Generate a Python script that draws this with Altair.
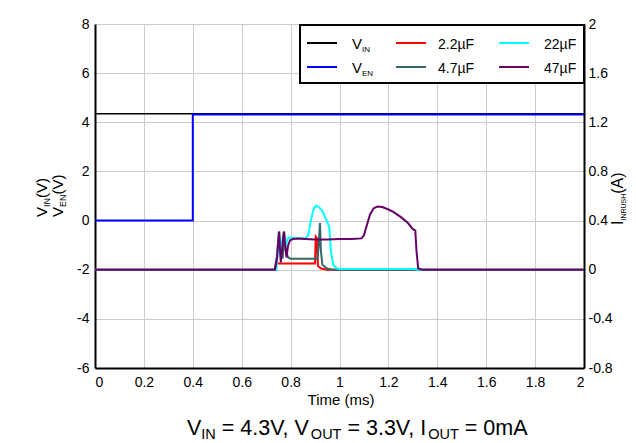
import altair as alt
import pandas as pd

# ---------------- data ----------------
x_ticks = [0, 0.2, 0.4, 0.6, 0.8, 1, 1.2, 1.4, 1.6, 1.8, 2]
v_ticks = [-6, -4, -2, 0, 2, 4, 6, 8]
a_ticks = [-0.8, -0.4, 0, 0.4, 0.8, 1.2, 1.6, 2]

# input / enable voltages (V)
t_vin = [0.0, 0.5, 1.0, 1.5, 2.0]
v_vin = [4.35, 4.35, 4.35, 4.35, 4.35]
t_ven = [0.0, 0.4, 0.4, 2.0]
v_ven = [0.0, 0.0, 4.32, 4.32]

# inrush currents (A)
t_c22 = [0.0, 0.735, 0.740, 0.750, 0.900, 0.903, 0.907, 0.912, 0.925, 0.950, 2.0]
a_c22 = [0.0, 0.0, 0.06, 0.05, 0.05, 0.27, 0.26, 0.03, 0.01, 0.0, 0.0]

t_c47 = [0.0, 0.738, 0.748, 0.754, 0.760, 0.768, 0.774, 0.780, 0.790, 0.800, 0.910,
         0.915, 0.920, 0.924, 0.930, 0.950, 0.970, 2.0]
a_c47 = [0.0, 0.0, 0.20, 0.31, 0.10, 0.10, 0.31, 0.15, 0.10, 0.09, 0.09,
         0.20, 0.38, 0.15, 0.04, 0.01, 0.0, 0.0]

t_c220 = [0.0, 0.742, 0.752, 0.758, 0.770, 0.780, 0.790, 0.800, 0.860, 0.872, 0.885,
          0.895, 0.905, 0.915, 0.930, 0.945, 0.958, 0.965, 0.974, 0.990, 1.000,
          1.300, 1.320, 2.0]
a_c220 = [0.0, 0.0, 0.28, 0.12, 0.29, 0.20, 0.26, 0.26, 0.255, 0.28, 0.42,
          0.50, 0.52, 0.51, 0.48, 0.41, 0.35, 0.15, 0.04, 0.01, 0.005,
          0.005, 0.0, 0.0]

t_c470 = [0.0, 0.736, 0.745, 0.752, 0.760, 0.772, 0.783, 0.790, 0.798, 0.810, 0.830,
          0.860, 0.900, 0.950, 1.000, 1.050, 1.090, 1.100, 1.110, 1.125, 1.140,
          1.155, 1.175, 1.200, 1.220, 1.250, 1.280, 1.300, 1.310, 1.315, 1.322,
          1.340, 2.0]
a_c470 = [0.0, 0.0, 0.10, 0.31, 0.06, 0.31, 0.10, 0.20, 0.24, 0.25, 0.255,
          0.25, 0.245, 0.245, 0.25, 0.25, 0.255, 0.28, 0.35, 0.45, 0.50,
          0.515, 0.51, 0.49, 0.47, 0.43, 0.38, 0.33, 0.32, 0.15, 0.01,
          0.0, 0.0]

FONT = "Liberation Sans"
C_VIN, C_VEN = "#000000", "#0000FF"
C_22, C_47, C_220, C_470 = "#FF0000", "#336666", "#00FFFF", "#660066"

W = {' ': 278, '=': 584, '.': 278, ',': 278, 'V': 667, 'I': 278,
     'N': 722, 'O': 778, 'U': 722, 'T': 611, 'E': 667, 'm': 833, 'A': 667,
     'R': 722, 'S': 667, 'H': 722, '(': 333, ')': 333, '\u00b5': 576, 'F': 611}


def tw(s, size):
    return sum(W.get(c, 556) for c in s) / 1000.0 * size


one = pd.DataFrame({"a": [0]})


def txt(s, x, y, size, angle=0, align="left", baseline="alphabetic"):
    return alt.Chart(one).mark_text(
        text=s, font=FONT, fontSize=size, angle=angle, align=align,
        baseline=baseline, color="black"
    ).encode(x=alt.value(x), y=alt.value(y))


def hseq(pieces, x0, y0):
    out, x = [], x0
    for s, size, dy in pieces:
        lead = len(s) - len(s.lstrip(" "))
        x += tw(" " * lead, size)
        s = s.lstrip(" ")
        out.append(txt(s, x, y0 + dy, size))
        x += tw(s, size)
    return out


def vseq(pieces, x0, y0):
    out, y = [], y0
    for s, size, dx in pieces:
        out.append(txt(s, x0 + dx, y, size, angle=270))
        y -= tw(s, size)
    return out


x_scale = alt.Scale(domain=[0, 2], nice=False, zero=False)
x_axis = alt.Axis(values=x_ticks, labelExpr="datum.value + ''", title=None,
                  grid=True, gridColor="#CCCCCC", gridWidth=1, ticks=False,
                  domainColor="black", domainWidth=2, labelPadding=7,
                  labelFont=FONT, labelFontSize=14, labelColor="black")
vl_axis = alt.Axis(values=v_ticks, labelExpr="datum.value + ''", title=None,
                   orient="left", grid=True, gridColor="#CCCCCC", gridWidth=1,
                   ticks=False, domainColor="black", domainWidth=2, labelPadding=6,
                   labelFont=FONT, labelFontSize=14, labelColor="black")
ar_axis = alt.Axis(values=a_ticks, labelExpr="datum.value + ''", title=None,
                   orient="right", grid=False, ticks=False, domainColor="black",
                   domainWidth=2, labelPadding=4, labelFont=FONT,
                   labelFontSize=14, labelColor="black")
v_scale = alt.Scale(domain=[-6, 8], nice=False, zero=False)
a_scale = alt.Scale(domain=[-0.8, 2], nice=False, zero=False)


def vline(t, v, color, w):
    df = pd.DataFrame({"t": t, "v": v, "i": list(range(len(t)))})
    return alt.Chart(df).mark_line(color=color, strokeWidth=w).encode(
        x=alt.X("t:Q", scale=x_scale, axis=x_axis),
        y=alt.Y("v:Q", scale=v_scale, axis=vl_axis),
        order="i:Q")


def aline(t, a, color, w):
    df = pd.DataFrame({"t": t, "a": a, "i": list(range(len(t)))})
    return alt.Chart(df).mark_line(color=color, strokeWidth=w).encode(
        x=alt.X("t:Q", scale=x_scale, axis=x_axis),
        y=alt.Y("a:Q", scale=a_scale, axis=ar_axis),
        order="i:Q")


left = alt.layer(vline(t_vin, v_vin, C_VIN, 1.6), vline(t_ven, v_ven, C_VEN, 2))
right = alt.layer(aline(t_c22, a_c22, C_22, 2), aline(t_c47, a_c47, C_47, 2),
                  aline(t_c220, a_c220, C_220, 2), aline(t_c470, a_c470, C_470, 2))

# legend (drawn by hand to keep subscripts)
box = alt.Chart(one).mark_rect(fill="white", stroke="black", strokeWidth=2).encode(
    x=alt.value(205), x2=alt.value(489), y=alt.value(1), y2=alt.value(59))
leg = [box]
rows = [19, 43]
cols = [(212, 242, 257), (301, 331, 343), (404, 434, 449)]
for (x1, x2, _), ry, c in [(cols[0], rows[0], C_VIN), (cols[0], rows[1], C_VEN),
                           (cols[1], rows[0], C_22), (cols[1], rows[1], C_47),
                           (cols[2], rows[0], C_220), (cols[2], rows[1], C_470)]:
    leg.append(alt.Chart(one).mark_rule(color=c, strokeWidth=2).encode(
        x=alt.value(x1), x2=alt.value(x2), y=alt.value(ry)))
leg += hseq([("V", 15, 0), ("IN", 8, 3)], cols[0][2], rows[0] + 5.5)
leg += hseq([("V", 15, 0), ("EN", 8, 3)], cols[0][2], rows[1] + 5.5)
leg.append(txt("2.2\u00b5F", cols[1][2], rows[0] + 5.5, 14))
leg.append(txt("4.7\u00b5F", cols[1][2], rows[1] + 5.5, 14))
leg.append(txt("22\u00b5F", cols[2][2], rows[0] + 5.5, 14))
leg.append(txt("47\u00b5F", cols[2][2], rows[1] + 5.5, 14))

# titles
titles = []
titles += vseq([("V", 15, 0), ("IN", 9, 3), ("(V)", 15, 0)], -48, 193)
titles += vseq([("V", 15, 0), ("EN", 9, 3), ("(V)", 15, 0)], -32, 193)
titles += vseq([("I", 16, 0), ("INRUSH", 7, 3), ("(A)", 16, 0)], 528, 201)
titles.append(txt("Time (ms)", 246, 376, 15, align="center", baseline="middle"))
titles += hseq([("V", 21.5, 0), ("IN", 14.5, 4), (" = 4.3V, V", 21.5, 0), ("OUT", 14.5, 4),
                (" = 3.3V, I", 21.5, 0), ("OUT", 14.5, 4), (" = 0mA", 21.5, 0)], 92, 411)

data_layers = alt.layer(left, right).resolve_scale(y="independent")
chart = alt.layer(data_layers, *leg, *titles).properties(
    width=489, height=344,
    autosize=alt.AutoSizeParams(type="none"),
    padding={"left": 87, "top": 16, "right": 44, "bottom": 75},
).configure_view(stroke=None)

chart.save("out.html", embed_options={"renderer": "svg", "actions": False})
